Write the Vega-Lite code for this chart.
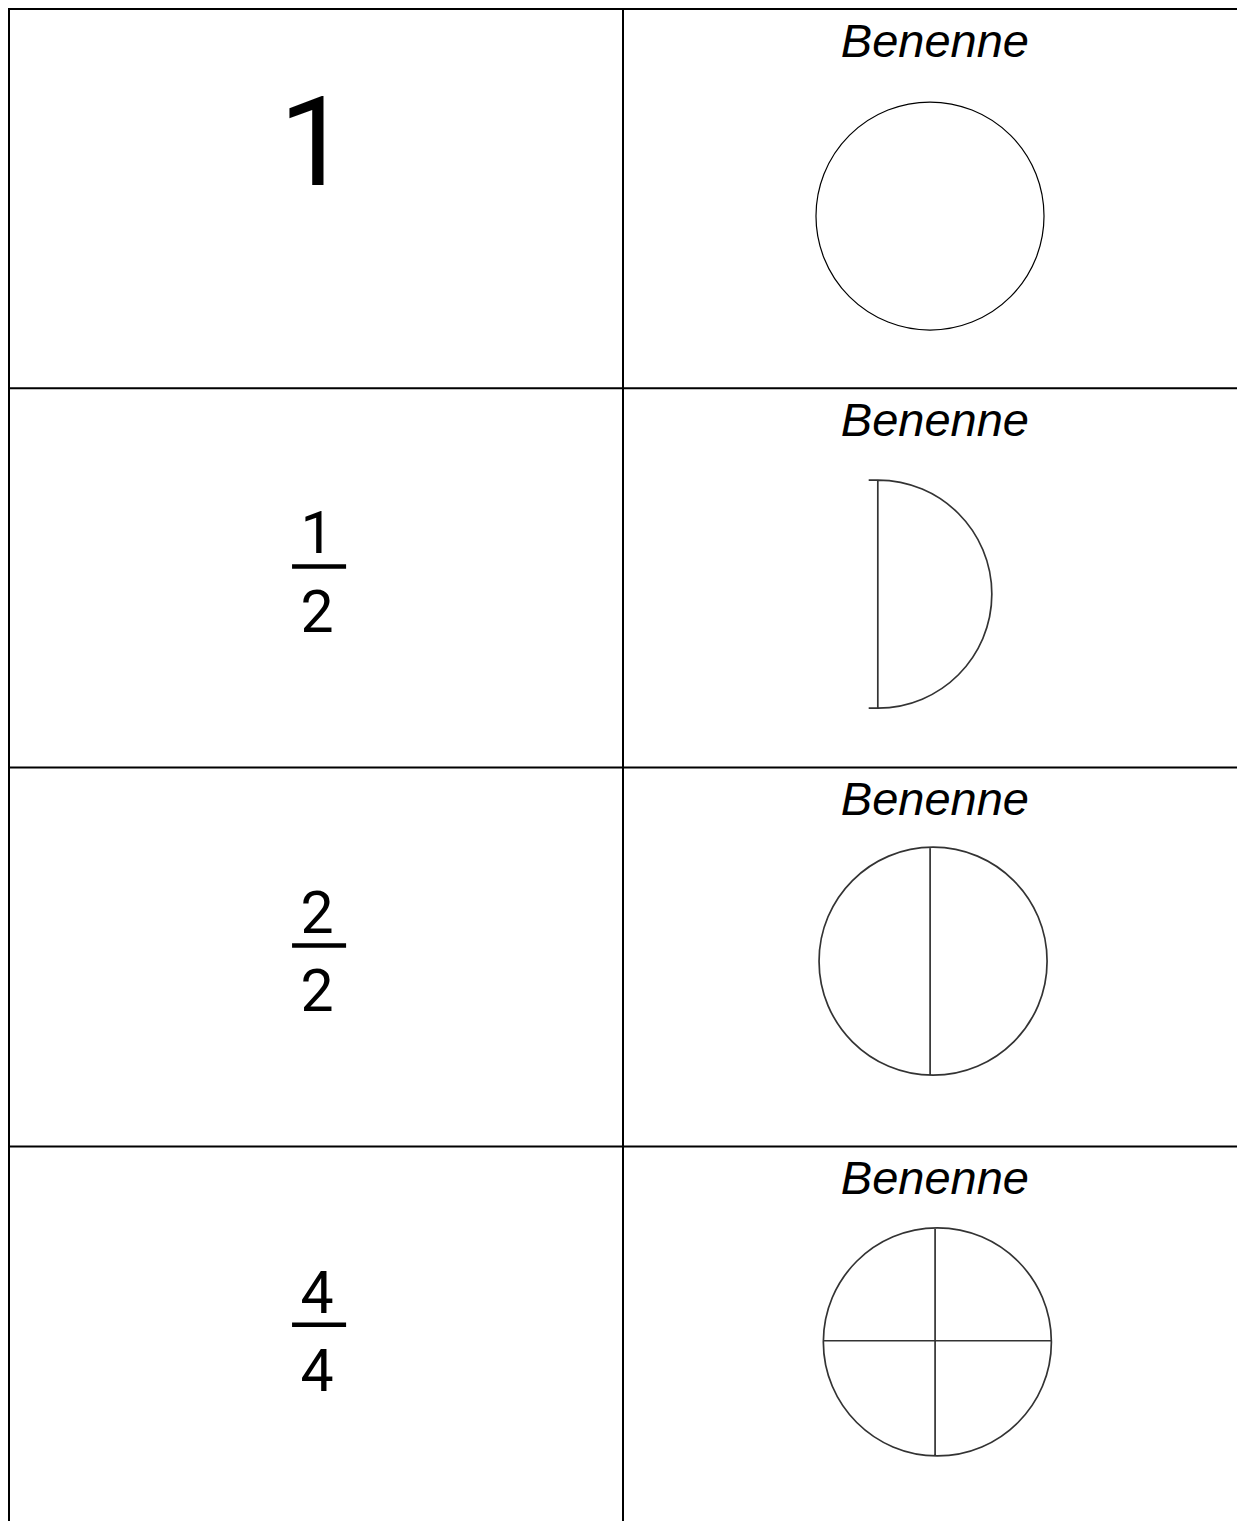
{
  "$schema": "https://vega.github.io/schema/vega-lite/v6.json",
  "width": 1237,
  "height": 1521,
  "autosize": {"type": "fit", "contains": "padding"},
  "padding": 0,
  "background": "white",
  "config": {"view": {"stroke": null}},
  "datasets": {
    "gitter": [
      {"x": 0, "x2": 0, "y": 0, "y2": 4},
      {"x": 1, "x2": 1, "y": 0, "y2": 4},
      {"x": 0, "x2": 2, "y": 0, "y2": 0},
      {"x": 0, "x2": 2, "y": 1, "y2": 1},
      {"x": 0, "x2": 2, "y": 2, "y2": 2},
      {"x": 0, "x2": 2, "y": 3, "y2": 3}
    ],
    "ganz": [{"text": "1", "x": 0.497, "y": 0.464}],
    "bruchzahlen": [
      {"text": "1", "x": 0.5016, "y": 1.435},
      {"text": "2", "x": 0.5016, "y": 1.643},
      {"text": "2", "x": 0.5016, "y": 2.4375},
      {"text": "2", "x": 0.5016, "y": 2.642},
      {"text": "4", "x": 0.5016, "y": 3.439},
      {"text": "4", "x": 0.5016, "y": 3.644}
    ],
    "bruchstriche": [
      {"x": 0.461, "x2": 0.549, "y": 1.47},
      {"x": 0.461, "x2": 0.549, "y": 2.4697},
      {"x": 0.461, "x2": 0.549, "y": 3.47}
    ],
    "benenne": [
      {"text": "Benenne", "x": 1.508, "y": 0.126},
      {"text": "Benenne", "x": 1.508, "y": 1.126},
      {"text": "Benenne", "x": 1.508, "y": 2.126},
      {"text": "Benenne", "x": 1.508, "y": 3.126}
    ],
    "formen": [
      {"form": "ganz", "x": 1.5, "y": 0.546},
      {"form": "halb", "x": 1.415, "y": 1.543},
      {"form": "halbe", "x": 1.505, "y": 2.511},
      {"form": "viertel", "x": 1.512, "y": 3.515}
    ]
  },
  "layer": [
    {
      "data": {"name": "gitter"},
      "mark": {"type": "rule", "color": "black", "strokeWidth": 2, "strokeCap": "square"},
      "encoding": {
        "x": {"field": "x", "type": "quantitative", "scale": {"domain": [0, 2], "range": [9, 1237], "nice": false, "zero": false}, "axis": null},
        "x2": {"field": "x2"},
        "y": {"field": "y", "type": "quantitative", "scale": {"domain": [0, 4], "range": [9, 1525.8], "nice": false, "zero": false}, "axis": null},
        "y2": {"field": "y2"}
      }
    },
    {
      "data": {"name": "bruchstriche"},
      "mark": {"type": "rule", "color": "black", "strokeWidth": 4.5},
      "encoding": {
        "x": {"field": "x", "type": "quantitative"},
        "x2": {"field": "x2"},
        "y": {"field": "y", "type": "quantitative"}
      }
    },
    {
      "data": {"name": "ganz"},
      "mark": {"type": "text", "font": "Roboto", "fontSize": 125, "align": "center", "baseline": "alphabetic", "color": "black"},
      "encoding": {
        "x": {"field": "x", "type": "quantitative"},
        "y": {"field": "y", "type": "quantitative"},
        "text": {"field": "text"}
      }
    },
    {
      "data": {"name": "bruchzahlen"},
      "mark": {"type": "text", "font": "Roboto", "fontSize": 59, "align": "center", "baseline": "alphabetic", "color": "black"},
      "encoding": {
        "x": {"field": "x", "type": "quantitative"},
        "y": {"field": "y", "type": "quantitative"},
        "text": {"field": "text"}
      }
    },
    {
      "data": {"name": "benenne"},
      "mark": {"type": "text", "font": "Liberation Sans", "fontSize": 47, "fontStyle": "italic", "align": "center", "baseline": "alphabetic", "color": "black"},
      "encoding": {
        "x": {"field": "x", "type": "quantitative"},
        "y": {"field": "y", "type": "quantitative"},
        "text": {"field": "text"}
      }
    },
    {
      "data": {"name": "formen"},
      "mark": {"type": "point", "filled": false, "size": 52000, "opacity": 1},
      "encoding": {
        "x": {"field": "x", "type": "quantitative"},
        "y": {"field": "y", "type": "quantitative"},
        "shape": {
          "field": "form",
          "type": "nominal",
          "legend": null,
          "scale": {
            "domain": ["ganz", "halb", "halbe", "viertel"],
            "range": [
              "circle",
              "M-0.08,-1 L0,-1 A1,1 0 0,1 0,1 L-0.08,1 M0,-1 L0,1",
              "M0,-1 A1,1 0 1,1 0,1 A1,1 0 1,1 0,-1 Z M-0.026,-1 L-0.026,1",
              "M0,-1 A1,1 0 1,1 0,1 A1,1 0 1,1 0,-1 Z M-0.02,-1 L-0.02,1 M-1,-0.01 L1,-0.01"
            ]
          }
        },
        "stroke": {
          "field": "form",
          "type": "nominal",
          "legend": null,
          "scale": {"domain": ["ganz", "halb", "halbe", "viertel"], "range": ["#000000", "#333333", "#333333", "#333333"]}
        },
        "strokeWidth": {
          "field": "form",
          "type": "nominal",
          "legend": null,
          "scale": {"type": "ordinal", "domain": ["ganz", "halb", "halbe", "viertel"], "range": [1.2, 1.7, 1.7, 1.7]}
        }
      }
    }
  ]
}
